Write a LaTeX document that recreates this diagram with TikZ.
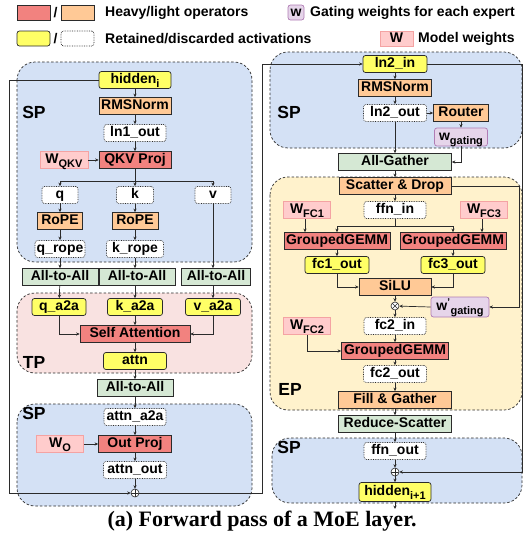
\documentclass[tikz,border=0pt]{standalone}
\usepackage{fontspec}
\setmainfont{Liberation Sans}
\newfontfamily\capfont{Liberation Serif}
\usetikzlibrary{arrows.meta,calc}

\definecolor{linec}{HTML}{2B2B2B}
\definecolor{spfill}{HTML}{D4E1F5}
\definecolor{tpfill}{HTML}{F9E2E1}
\definecolor{epfill}{HTML}{FFF2CC}
\definecolor{heavyc}{HTML}{F2827F}
\definecolor{lightc}{HTML}{FFC996}
\definecolor{keepc}{HTML}{FFFF66}
\definecolor{commc}{HTML}{D5E8D4}
\definecolor{wtc}{HTML}{FFCCCC}
\definecolor{wtborder}{HTML}{F4A3A3}
\definecolor{gatec}{HTML}{E6D5EA}
\definecolor{gateborder}{HTML}{B07CB4}

% lowered small text for subscripts
\newcommand\lowsub[1]{\raisebox{-0.55ex}{\fontsize{11}{11}\selectfont #1}}

\tikzset{
  base/.style={draw=linec, line width=0.7pt, minimum height=17pt, inner sep=1pt,
    text height=10pt, text depth=2.5pt},
  heavy/.style={base, fill=heavyc},
  light/.style={base, fill=lightc},
  keep/.style={base, fill=keepc, rounded corners=2.5pt},
  drop/.style={base, fill=white, densely dotted, rounded corners=2.5pt},
  comm/.style={base, fill=commc},
  wt/.style={base, fill=wtc, draw=wtborder},
  gate/.style={base, fill=gatec, draw=gateborder, rounded corners=2.5pt},
  region/.style={draw=linec, line width=0.7pt, dash pattern=on 2.5pt off 2pt, rounded corners=18pt},
  tag/.style={font=\fontsize{17.5}{18}\selectfont\bfseries, inner sep=0pt},
  arr/.style={-{Stealth[length=3.5pt,width=3.2pt]}, line width=0.7pt, draw=linec},
  ln/.style={line width=0.7pt, draw=linec},
  opsym/.style={circle, draw=linec, fill=white, line width=0.6pt, minimum size=8pt, inner sep=0pt},
  plusop/.style={opsym, path picture={\draw[line width=0.6pt, linec]
      (path picture bounding box.north) -- (path picture bounding box.south)
      (path picture bounding box.west) -- (path picture bounding box.east);}},
  timesop/.style={opsym, path picture={\draw[line width=0.6pt, linec]
      (path picture bounding box.north west) -- (path picture bounding box.south east)
      (path picture bounding box.north east) -- (path picture bounding box.south west);}},
  legtext/.style={anchor=west, inner sep=0pt},
}

\begin{document}
\begin{tikzpicture}[x=1pt, y=-1pt, font=\fontsize{14}{15}\selectfont\bfseries]
\useasboundingbox (0,0) rectangle (523,541);

% ---------- legend ----------
\node[heavy, minimum width=33pt, minimum height=15pt] (lgheavy) at (33.5,12.5) {};
\node (lgslash1) at (55.5,12.5) {/};
\node[light, minimum width=33pt, minimum height=15pt] (lglight) at (77.5,12.5) {};
\node[legtext] (lgtxt1) at (105,12.5) {Heavy/light operators};
\node[keep, minimum width=33pt, minimum height=15pt] (lgkeep) at (33.5,38.5) {};
\node (lgslash2) at (55.5,38.5) {/};
\node[drop, minimum width=33pt, minimum height=15pt] (lgdrop) at (77.5,38.5) {};
\node[legtext] (lgtxt2) at (105,38.5) {Retained/discarded activations};
\node[gate, minimum width=16pt, minimum height=15pt] (lggate) at (296,12.5) {w};
\node[legtext] (lgtxt3) at (310,12.5) {Gating weights for each expert};
\node[wt, minimum width=33pt, minimum height=15pt] (lgwt) at (396.5,38.5) {W};
\node[legtext] (lgtxt4) at (418,38.5) {Model weights};

% ---------- parallel regions ----------
\path[region, fill=spfill] (17,62) rectangle (252,262);
\path[region, fill=tpfill] (17,293) rectangle (252,373);
\path[region, fill=spfill] (17,404) rectangle (252,506);
\path[region, fill=spfill] (270,52) rectangle (522,148);
\path[region, fill=epfill] (270,177) rectangle (522,410);
\path[region, fill=spfill] (272,438) rectangle (522,503);

\node[tag] (tagsp1) at (34,112) {SP};
\node[tag] (tagtp) at (34,362) {TP};
\node[tag] (tagsp2) at (34,413) {SP};
\node[tag] (tagsp3) at (289,112) {SP};
\node[tag] (tagep) at (290,389) {EP};
\node[tag] (tagsp4) at (289,447) {SP};

% ---------- attention block ----------
\node[keep, minimum width=72pt] (hid) at (135,80) {hidden\lowsub{i}};
\node[light, minimum width=72pt] (rms1) at (135,106) {RMSNorm};
\node[drop, minimum width=62pt] (ln1) at (135,133) {ln1\_out};
\node[heavy, minimum width=72pt] (qkv) at (135,160) {QKV Proj};
\node[wt, minimum width=48pt] (wqkv) at (64,160) {W\lowsub{QKV}};
\coordinate (br1) at (135,181);
\node[drop, minimum width=36pt] (q) at (60,195) {q};
\node[drop, minimum width=37pt] (k) at (135,195) {k};
\node[drop, minimum width=36pt] (v) at (213,195) {v};
\node[light, minimum width=45pt] (ropeq) at (60,221) {RoPE};
\node[light, minimum width=46pt] (ropek) at (135,221) {RoPE};
\node[drop, minimum width=50pt] (qrope) at (60,249) {q\_rope};
\node[drop, minimum width=57pt] (krope) at (135,249) {k\_rope};
\node[comm, minimum width=76pt] (a2aq) at (60,277) {All-to-All};
\node[comm, minimum width=76pt] (a2ak) at (137,277) {All-to-All};
\node[comm, minimum width=69pt] (a2av) at (216,277) {All-to-All};
\node[keep, minimum width=54pt] (qa2a) at (59,307) {q\_a2a};
\node[keep, minimum width=55pt] (ka2a) at (135,307) {k\_a2a};
\node[keep, minimum width=55pt] (va2a) at (213,307) {v\_a2a};
\node[heavy, minimum width=110pt] (sa) at (135,334) {Self Attention};
\node[keep, minimum width=63pt] (attn) at (135,361) {attn};
\node[comm, minimum width=76pt] (a2ao) at (135,388) {All-to-All};
\node[drop, minimum width=62pt] (attna2a) at (135,417) {attn\_a2a};
\node[heavy, minimum width=73pt] (outp) at (135,444) {Out Proj};
\node[wt, minimum width=47pt] (wo) at (60,444) {W\lowsub{O}};
\node[drop, minimum width=63pt] (attnout) at (135,470) {attn\_out};
\node[plusop] (plus1) at (135,493) {};

\draw[arr] (hid) -- (rms1);
\draw[arr] (rms1) -- (ln1);
\draw[arr] (ln1) -- (qkv);
\draw[arr] (wqkv) -- (qkv);
\draw[ln] (qkv.south) -- (br1);
\draw[arr] (br1) -| (q.north);
\draw[arr] (br1) -- (k.north);
\draw[arr] (br1) -| (v.north);
\draw[arr] (q) -- (ropeq);
\draw[arr] (ropeq) -- (qrope);
\draw[arr] (qrope) -- (a2aq);
\draw[arr] (k) -- (ropek);
\draw[arr] (ropek) -- (krope);
\draw[arr] (krope.south) -- (krope.south |- a2ak.north);
\draw[arr] (v.south) -- (v.south |- a2av.north);
\draw[arr] (a2aq) -- (qa2a);
\draw[arr] (a2ak.south -| ka2a) -- (ka2a);
\draw[arr] (a2av.south -| va2a) -- (va2a);
\draw[arr] (qa2a.south) |- (sa.west);
\draw[arr] (ka2a) -- (sa);
\draw[arr] (va2a.south) |- (sa.east);
\draw[arr] (sa) -- (attn);
\draw[arr] (attn) -- (a2ao);
\draw[arr] (a2ao) -- (attna2a);
\draw[arr] (attna2a) -- (outp);
\draw[arr] (wo) -- (outp);
\draw[arr] (outp) -- (attnout);
\draw[arr] (attnout) -- (plus1);

% ---------- MoE block ----------
\node[keep, minimum width=64pt] (ln2in) at (395,64) {ln2\_in};
\node[light, minimum width=73pt] (rms2) at (395,88) {RMSNorm};
\node[drop, minimum width=63pt] (ln2out) at (395,113) {ln2\_out};
\node[light, minimum width=55pt] (router) at (461,113) {Router};
\node[gate, minimum width=53pt, minimum height=18pt] (wg) at (461,137) {w\lowsub{gating}};
\node[comm, minimum width=113pt] (ag) at (395,162) {All-Gather};
\node[light, minimum width=112pt] (sd) at (395,186) {Scatter \& Drop};
\node[drop, minimum width=62pt] (ffnin) at (395,210) {ffn\_in};
\node[wt, minimum width=47pt] (wfc1) at (307,210) {W\lowsub{FC1}};
\node[wt, minimum width=47pt] (wfc3) at (484,210) {W\lowsub{FC3}};
\coordinate (br2) at (395,226);
\node[heavy, minimum width=106pt] (gemm1) at (337,241) {GroupedGEMM};
\node[heavy, minimum width=106pt] (gemm3) at (453,241) {GroupedGEMM};
\node[keep, minimum width=64pt] (fc1out) at (337,265) {fc1\_out};
\node[keep, minimum width=64pt] (fc3out) at (453,265) {fc3\_out};
\node[light, minimum width=72pt] (silu) at (395,287) {SiLU};
\node[timesop] (times) at (395,306) {};
\node[gate, minimum width=58pt, minimum height=20pt] (wpg) at (460,307) {w\textsuperscript{'}\lowsub{gating}};
\node[drop, minimum width=62pt] (fc2in) at (395,326) {fc2\_in};
\node[wt, minimum width=47pt] (wfc2) at (307,326) {W\lowsub{FC2}};
\node[heavy, minimum width=107pt] (gemm2) at (395,351) {GroupedGEMM};
\node[drop, minimum width=63pt] (fc2out) at (395,374) {fc2\_out};
\node[light, minimum width=113pt] (fg) at (395,400) {Fill \& Gather};
\node[comm, minimum width=113pt] (rs) at (395,424) {Reduce-Scatter};
\node[drop, minimum width=62pt] (ffnout) at (395,451) {ffn\_out};
\node[plusop] (plus2) at (395,472) {};
\node[keep, minimum width=72pt, minimum height=19pt] (hid2) at (395,492) {hidden\lowsub{i+1}};
\coordinate (outend) at (395,509);

\draw[arr] (ln2in) -- (rms2);
\draw[arr] (rms2) -- (ln2out);
\draw[arr] (ln2out) -- (router);
\draw[arr] (router) -- (wg);
\draw[arr] (ln2out) -- (ag);
\draw[arr] (wg.south) |- (ag.east);
\draw[arr] (ag) -- (sd);
\draw[arr] (sd) -- (ffnin);
\draw[ln] (ffnin) -- (br2);
\draw[arr] (br2) -| (gemm1.north);
\draw[arr] (br2) -| (gemm3.north);
\draw[arr] (wfc1.south -| 305,0) -- (305,0 |- gemm1.north);
\draw[arr] (wfc3.south -| 482,0) -- (482,0 |- gemm3.north);
\draw[arr] (gemm1) -- (fc1out);
\draw[arr] (gemm3) -- (fc3out);
\draw[arr] (fc1out.south) |- (silu.west);
\draw[arr] (fc3out.south) |- (silu.east);
\draw[arr] (silu) -- (times);
\draw[arr] (wpg.west) -- (times);
\draw[arr] (sd.east) -- (519,186) |- (wpg.east);
\draw[arr] (times) -- (fc2in);
\draw[arr] (fc2in) -- (gemm2);
\draw[arr] (wfc2.south) |- (gemm2.west);
\draw[arr] (gemm2) -- (fc2out);
\draw[arr] (fc2out) -- (fg);
\draw[arr] (fg) -- (rs);
\draw[arr] (rs) -- (ffnout);
\draw[arr] (ffnout) -- (plus2);
\draw[arr] (plus2) -- (hid2);
\draw[arr] (hid2) -- (outend);

% ---------- residual paths ----------
\draw[arr] (hid.west) -- (9,80) -- (9,493) -- (plus1.west);
\draw[arr] (plus1.east) -- (262,493) -- (262,64) -- (ln2in.west);
\draw[arr] (ln2in.east) -- (522,64) -- (522,472) -- (plus2.east);

% ---------- caption ----------
\node[font=\capfont\fontsize{22}{23}\selectfont\bfseries, inner sep=0pt] (caption) at (262,521) {(a) Forward pass of a MoE layer.};
\end{tikzpicture}
\end{document}
